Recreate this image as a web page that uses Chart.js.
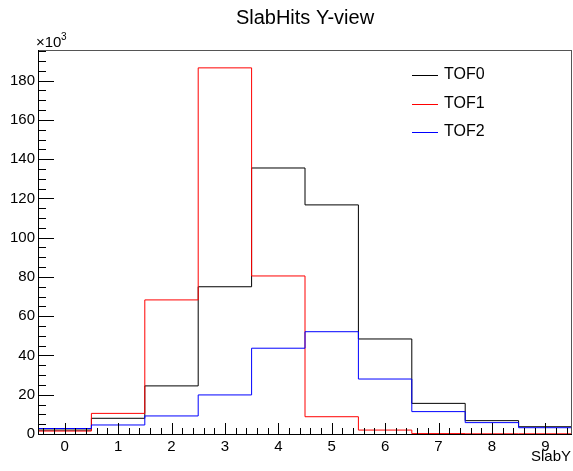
<!DOCTYPE html>
<html>
<head>
<meta charset="utf-8">
<script src="https://cdn.jsdelivr.net/npm/chart.js@4/dist/chart.umd.min.js"></script>
<style>
  html, body { margin: 0; padding: 0; background: #fff; }
  canvas { display: block; }
</style>
</head>
<body>
<canvas id="chart" width="573" height="471"></canvas>
<script>
// bin centres of the SlabY histogram and the counts (in thousands) per slab
const binCenters = [0, 1, 2, 3, 4, 5, 6, 7, 8, 9];
const tof0 = [2.0, 8.0, 24.5, 75.0, 135.5, 116.7, 48.4, 15.6, 6.8, 3.7];
const tof1 = [1.5, 10.5, 68.3, 186.5, 80.5, 8.8, 2.0, 0.2, 0.1, 0.1];
const tof2 = [2.8, 4.6, 9.2, 19.9, 43.7, 52.1, 28.0, 11.4, 5.8, 3.2];
const seriesNames = ['TOF0', 'TOF1', 'TOF2'];
const xTicks = [0, 1, 2, 3, 4, 5, 6, 7, 8, 9];
const yTicks = [0, 20, 40, 60, 80, 100, 120, 140, 160, 180];

const FONT = '"Liberation Sans", Arial, Helvetica, sans-serif';

// histogram outline: one point per lower bin edge plus the last upper edge
function toSteps(values) {
    const pts = values.map((v, i) => ({ x: binCenters[i] - 0.5, y: v }));
    const last = values.length - 1;
    pts.push({ x: binCenters[last] + 0.5, y: values[last] });
    return pts;
}

const colors = ['#000000', '#ff0000', '#0000ff'];

const rootStyle = {
    id: 'rootStyle',
    afterDraw(chart) {
        const { ctx, chartArea: a, scales: { x, y } } = chart;
        ctx.save();

        // frame
        ctx.strokeStyle = '#555';
        ctx.lineWidth = 1;
        ctx.strokeRect(a.left + 0.5, a.top + 0.5, a.right - a.left - 1, a.bottom - a.top);
        ctx.strokeStyle = '#000';
        ctx.beginPath();
        ctx.moveTo(a.left + 0.5, a.top);
        ctx.lineTo(a.left + 0.5, a.bottom + 0.5);
        ctx.lineTo(a.right, a.bottom + 0.5);
        ctx.stroke();

        // inner ticks, ROOT style
        ctx.beginPath();
        for (let v = 0; v <= y.max; v += 5) {
            const py = Math.round(y.getPixelForValue(v)) + 0.5;
            const len = v % 20 === 0 ? 16 : 8;
            ctx.moveTo(a.left, py);
            ctx.lineTo(a.left + len, py);
        }
        for (let i = -2; i <= 47; i++) {
            const v = i / 5;
            if (v <= x.min || v >= x.max) continue;
            const px = Math.round(x.getPixelForValue(v)) + 0.5;
            const len = i % 5 === 0 ? 11 : 6;
            ctx.moveTo(px, a.bottom);
            ctx.lineTo(px, a.bottom - len);
        }
        ctx.stroke();

        // title
        ctx.fillStyle = '#000';
        ctx.textBaseline = 'middle';
        ctx.textAlign = 'center';
        ctx.font = '20px ' + FONT;
        ctx.fillText('SlabHits Y-view', (a.left + a.right) / 2, 18);

        // exponent label
        ctx.textAlign = 'left';
        ctx.font = '15px ' + FONT;
        ctx.fillText('\u00d710', a.left - 2, 43);
        ctx.font = '10px ' + FONT;
        ctx.fillText('3', a.left + 23, 37);

        // axis title
        ctx.textAlign = 'right';
        ctx.font = '15px ' + FONT;
        ctx.fillText('SlabY', a.right - 1, 457);

        // legend
        ctx.textAlign = 'left';
        ctx.font = '16px ' + FONT;
        chart.data.datasets.forEach((ds, i) => {
            const ly = 75 + i * 28.5;
            ctx.strokeStyle = ds.borderColor;
            ctx.beginPath();
            ctx.moveTo(412, Math.round(ly) + 0.5);
            ctx.lineTo(438, Math.round(ly) + 0.5);
            ctx.stroke();
            ctx.fillStyle = '#000';
            ctx.fillText(ds.label, 444, ly);
        });

        ctx.restore();
    }
};

new Chart(document.getElementById('chart').getContext('2d'), {
    type: 'line',
    data: {
        datasets: [tof0, tof1, tof2].map((vals, i) => ({
            label: seriesNames[i],
            data: toSteps(vals),
            borderColor: colors[i],
            borderWidth: 1,
            pointRadius: 0,
            stepped: true,
            fill: false,
            clip: 4,
            order: 3 - i
        }))
    },
    options: {
        responsive: false,
        animation: false,
        layout: { padding: { top: 50, right: 1, left: 0, bottom: 0 } },
        plugins: {
            legend: { display: false },
            title: { display: false },
            tooltip: { enabled: false }
        },
        scales: {
            x: {
                type: 'linear',
                min: -0.5,
                max: 9.5,
                grid: { display: false, drawTicks: false },
                border: { display: false },
                afterBuildTicks: s => { s.ticks = xTicks.map(v => ({ value: v })); },
                afterFit: s => { s.height = 37; },
                ticks: {
                    padding: 4,
                    color: '#000',
                    font: { family: FONT, size: 15 }
                }
            },
            y: {
                min: 0,
                max: 195.6,
                grid: { display: false, drawTicks: false },
                border: { display: false },
                afterBuildTicks: s => { s.ticks = yTicks.map(v => ({ value: v })); },
                afterFit: s => { s.width = 38; },
                ticks: {
                    padding: 3,
                    color: '#000',
                    font: { family: FONT, size: 15 }
                }
            }
        }
    },
    plugins: [rootStyle]
});
</script>
</body>
</html>
